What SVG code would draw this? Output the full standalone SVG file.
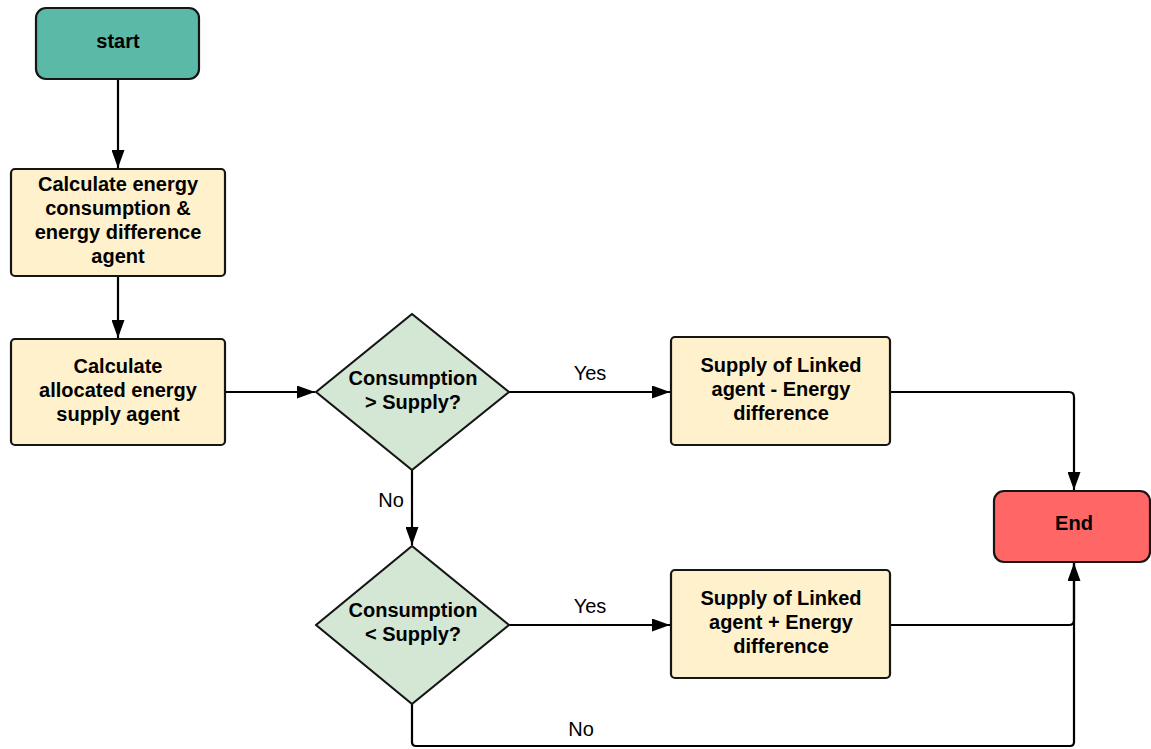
<svg xmlns="http://www.w3.org/2000/svg" width="1151" height="749" viewBox="0 0 1151 749">
  <defs>
    <marker id="arrow" viewBox="0 0 18 13" refX="18" refY="6.5" markerWidth="18" markerHeight="13" markerUnits="userSpaceOnUse" orient="auto">
      <path d="M0,0 L18,6.5 L0,13 Z" fill="#000"/>
    </marker>
  </defs>
  <style>
    .shape { stroke: #151515; stroke-width: 2.2; }
    .term-start { fill: #5ab9a7; }
    .term-end { fill: #ff6666; }
    .proc { fill: #fff1cc; }
    .dec { fill: #d4e7d4; }
    .t { font-family: "Liberation Sans", Arial, sans-serif; font-size: 20px; font-weight: bold; fill: #000; text-anchor: middle; }
    .lbl { font-family: "Liberation Sans", Arial, sans-serif; font-size: 20px; fill: #000; text-anchor: middle; }
    .edge { fill: none; stroke: #000; stroke-width: 2.2; }
  </style>
  <rect width="1151" height="749" fill="#ffffff"/>

  <g id="connectors">
    <path class="edge" d="M118,79 V168" marker-end="url(#arrow)"/>
    <path class="edge" d="M118,276 V338" marker-end="url(#arrow)"/>
    <path class="edge" d="M225,392 H315" marker-end="url(#arrow)"/>
    <path class="edge" d="M509,392 H670" marker-end="url(#arrow)"/>
    <path class="edge" d="M412,470 V545" marker-end="url(#arrow)"/>
    <path class="edge" d="M509,625 H670" marker-end="url(#arrow)"/>
    <path class="edge" d="M890,392 H1069 Q1074,392 1074,397 V490" marker-end="url(#arrow)"/>
    <path class="edge" d="M890,625 H1069 Q1074,625 1074,620 V563" marker-end="url(#arrow)"/>
    <path class="edge" d="M412,704 V742 Q412,746 416,746 H1070 Q1074,746 1074,742 V563"/>
    <text class="lbl" x="590" y="380">Yes</text>
    <text class="lbl" x="391" y="507">No</text>
    <text class="lbl" x="590" y="613">Yes</text>
    <text class="lbl" x="581" y="736">No</text>
  </g>

  <g id="start">
    <rect class="shape term-start" x="36" y="8" width="163" height="71" rx="10"/>
    <text class="t" x="118" y="48">start</text>
  </g>

  <g id="calc-consumption">
    <rect class="shape proc" x="11" y="169" width="214" height="107" rx="4"/>
    <text class="t" x="118" y="191">Calculate energy</text>
    <text class="t" x="118" y="215">consumption &amp;</text>
    <text class="t" x="118" y="239">energy difference</text>
    <text class="t" x="118" y="263">agent</text>
  </g>

  <g id="calc-supply">
    <rect class="shape proc" x="11" y="339" width="214" height="106" rx="4"/>
    <text class="t" x="118" y="373">Calculate</text>
    <text class="t" x="118" y="397">allocated energy</text>
    <text class="t" x="118" y="421">supply agent</text>
  </g>

  <g id="decision-greater">
    <path class="shape dec" d="M412,314 L509,392 L412,470 L316,392 Z" stroke-linejoin="round"/>
    <text class="t" x="413" y="385">Consumption</text>
    <text class="t" x="413" y="409">&gt; Supply?</text>
  </g>

  <g id="decision-less">
    <path class="shape dec" d="M412,546 L509,625 L412,704 L316,625 Z" stroke-linejoin="round"/>
    <text class="t" x="413" y="617">Consumption</text>
    <text class="t" x="413" y="641">&lt; Supply?</text>
  </g>

  <g id="supply-minus">
    <rect class="shape proc" x="671" y="337" width="219" height="108" rx="4"/>
    <text class="t" x="781" y="372">Supply of Linked</text>
    <text class="t" x="781" y="396">agent - Energy</text>
    <text class="t" x="781" y="420">difference</text>
  </g>

  <g id="supply-plus">
    <rect class="shape proc" x="671" y="570" width="219" height="108" rx="4"/>
    <text class="t" x="781" y="605">Supply of Linked</text>
    <text class="t" x="781" y="629">agent + Energy</text>
    <text class="t" x="781" y="653">difference</text>
  </g>

  <g id="end">
    <rect class="shape term-end" x="994" y="491" width="156" height="71" rx="10"/>
    <text class="t" x="1074" y="530">End</text>
  </g>
</svg>
